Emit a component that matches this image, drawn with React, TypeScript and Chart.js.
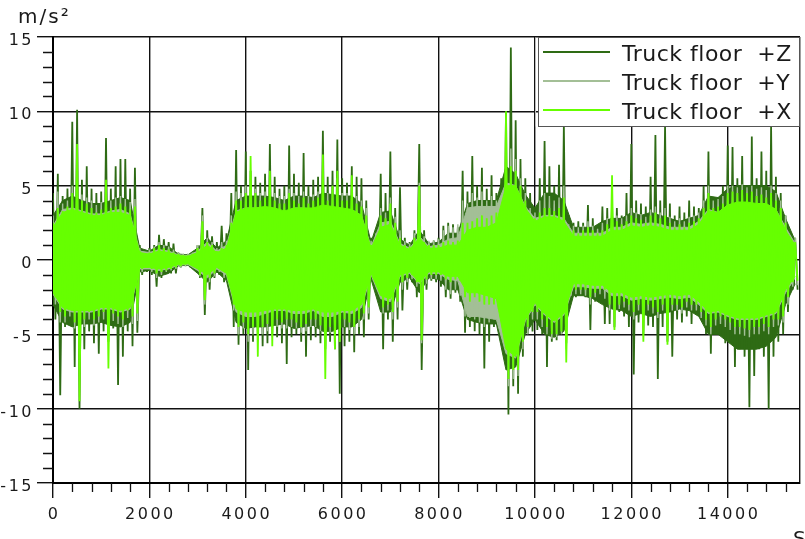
import React, { useEffect, useRef } from "react";
import { Chart, registerables } from "chart.js";

Chart.register(...registerables);

// ---------------- data ----------------
// Peaks: per 100 s bin, highest value (at bin start) and lowest value (half a bin later).
// Core: per 200 s, level of the dense, solid part of the trace.
const PEAK_BIN = 100;
const CORE_BIN = 200;
const X_MAX = 15500;
const xTickValues = [0, 2000, 4000, 6000, 8000, 10000, 12000, 14000];
const yTickValues = [-15, -10, -5, 0, 5, 10, 15];
const seriesLabels = ["Truck floor  +Z", "Truck floor  +Y", "Truck floor  +X"];
const seriesColors = ["#2e6b14", "#a3bf96", "#66ff00"];
const unitLabel = "m/s²";
const timeLabel = "S";

const zPeakUp = [
  4.5, 5.8, 4.3, 4.8, 9.3, 10.1, 5.4, 6.3, 4.8, 4.5,
  4.6, 8.2, 4.8, 6.3, 6.8, 6.8, 4.8, 6.2, 1.0, 0.6,
  0.8, 1.0, 1.7, 1.4, 1.2, 1.1, 0.5, 0.4, 0.4, 0.5,
  1.0, 3.5, 2.0, 1.6, 1.2, 2.3, 1.8, 4.5, 7.4, 5.0,
  7.3, 6.0, 5.6, 5.2, 5.8, 7.8, 5.6, 4.8, 5.0, 7.7,
  5.8, 5.2, 7.2, 5.0, 5.4, 5.6, 8.7, 5.6, 6.0, 8.1,
  5.5, 5.2, 6.3, 5.6, 5.5, 4.0, 1.5, 2.0, 5.8, 4.5,
  7.3, 3.5, 4.9, 1.5, 1.2, 2.0, 7.8, 2.0, 1.2, 1.3,
  1.5, 2.3, 2.5, 2.4, 2.2, 6.0, 4.6, 7.0, 5.0, 6.2,
  4.8, 5.7, 4.5, 5.5, 10.0, 14.3, 9.4, 6.8, 5.5, 4.5,
  3.5, 5.5, 8.0, 6.3, 5.0, 6.4, 9.0, 3.0, 2.5, 2.6,
  2.5, 3.7, 2.8, 2.2, 3.6, 3.5, 3.8, 3.5, 3.0, 4.5,
  7.8, 4.0, 3.8, 3.6, 5.6, 8.4, 4.0, 9.0, 3.8, 3.0,
  3.6, 3.2, 4.0, 3.6, 3.5, 5.0, 7.3, 4.0, 4.2, 5.0,
  7.7, 7.6, 5.5, 7.0, 5.0, 8.3, 5.5, 7.3, 6.0, 9.0,
  5.6, 4.5, 3.0, 1.3, 1.5,
];
const zPeakDown = [
  -4.0, -9.1, -4.5, -4.2, -7.2, -10.0, -6.0, -4.8, -5.6, -6.3,
  -4.8, -5.5, -4.6, -8.4, -6.5, -4.8, -5.8, -4.9, -1.0, -0.8,
  -1.0, -1.8, -1.2, -0.9, -0.9, -0.9, -0.5, -0.4, -0.5, -0.5,
  -1.2, -3.7, -2.0, -1.2, -1.0, -1.5, -1.8, -4.5, -5.7, -5.0,
  -7.4, -5.5, -5.0, -5.8, -5.6, -5.0, -5.2, -5.6, -7.0, -5.2,
  -5.0, -5.5, -6.5, -5.4, -5.2, -5.6, -6.0, -5.5, -6.0, -9.0,
  -5.8, -5.5, -6.2, -5.0, -5.2, -4.0, -1.5, -2.5, -6.0, -4.0,
  -5.5, -4.0, -3.4, -2.0, -1.5, -2.5, -7.4, -2.0, -1.4, -1.5,
  -1.8, -2.5, -2.6, -2.2, -2.8, -4.9, -4.5, -4.8, -5.0, -7.3,
  -5.5, -4.5, -4.5, -5.0, -10.4, -8.5, -9.0, -6.5, -5.0, -4.8,
  -4.7, -5.0, -7.2, -5.5, -5.4, -5.0, -5.6, -2.8, -2.5, -2.2,
  -2.5, -4.7, -2.8, -2.5, -4.3, -4.3, -4.5, -3.5, -3.8, -4.5,
  -7.7, -4.2, -5.0, -4.4, -4.5, -8.0, -4.5, -5.5, -6.5, -4.0,
  -4.2, -3.8, -4.3, -3.5, -4.0, -5.0, -6.3, -4.8, -5.0, -5.6,
  -5.5, -7.2, -6.0, -6.5, -9.9, -7.8, -6.0, -6.5, -10.0, -6.5,
  -5.5, -5.0, -3.5, -2.0, -2.0,
];
const yPeakUp = [
  3.0, 4.6, 3.8, 4.0, 5.0, 6.0, 4.4, 4.2, 4.0, 3.7,
  3.9, 5.0, 4.0, 4.2, 4.3, 4.1, 3.9, 4.1, 0.8, 0.5,
  0.7, 0.9, 1.2, 1.0, 0.9, 0.7, 0.5, 0.4, 0.4, 0.5,
  1.0, 3.0, 1.5, 1.2, 0.8, 1.2, 1.3, 3.0, 4.6, 4.5,
  5.0, 5.0, 4.8, 4.5, 4.6, 5.0, 4.5, 4.3, 4.3, 4.8,
  4.5, 4.3, 4.6, 4.3, 4.4, 4.6, 5.5, 4.5, 5.0, 5.5,
  4.5, 4.5, 5.0, 4.3, 4.0, 3.5, 1.3, 1.8, 3.5, 3.2,
  4.2, 2.9, 2.0, 1.3, 1.1, 1.8, 5.2, 1.6, 1.3, 1.3,
  1.4, 2.0, 2.3, 2.2, 2.4, 4.0, 3.8, 4.5, 4.2, 4.6,
  4.0, 4.3, 4.0, 4.2, 8.0, 7.5, 6.8, 5.5, 4.5, 3.5,
  3.2, 4.0, 4.5, 4.3, 4.0, 4.2, 5.0, 2.4, 2.3, 2.2,
  2.3, 2.6, 2.3, 2.1, 2.5, 2.8, 4.0, 3.0, 2.8, 3.0,
  3.5, 3.2, 3.1, 2.9, 3.4, 3.6, 3.2, 3.5, 2.9, 2.6,
  2.8, 2.6, 2.9, 3.0, 3.2, 4.0, 5.0, 4.0, 4.1, 4.3,
  5.0, 5.0, 4.9, 5.1, 4.9, 5.0, 4.8, 4.9, 4.7, 5.0,
  4.5, 4.0, 3.0, 1.5, 1.5,
];
const yPeakDown = [
  -3.0, -4.2, -4.2, -3.8, -4.6, -6.0, -4.5, -4.0, -4.4, -4.2,
  -4.0, -5.5, -4.1, -4.3, -4.5, -3.9, -4.3, -4.1, -0.8, -0.6,
  -0.8, -1.2, -1.0, -0.8, -0.7, -0.6, -0.5, -0.4, -0.4, -0.5,
  -1.1, -3.0, -1.5, -1.1, -0.8, -1.2, -1.5, -3.4, -5.0, -4.6,
  -5.5, -5.0, -5.5, -5.0, -4.8, -5.2, -4.5, -4.6, -4.6, -4.5,
  -4.6, -4.9, -4.8, -4.5, -4.5, -4.8, -6.0, -4.9, -5.5, -5.5,
  -4.5, -4.7, -5.0, -4.5, -4.0, -3.6, -1.4, -2.0, -3.6, -3.4,
  -4.0, -3.2, -2.0, -1.5, -1.3, -1.8, -5.6, -1.6, -1.3, -1.3,
  -1.4, -2.0, -2.3, -2.0, -2.4, -3.8, -3.9, -4.0, -4.2, -4.5,
  -4.2, -4.0, -4.0, -4.2, -8.5, -8.0, -7.8, -6.0, -5.0, -4.0,
  -4.0, -4.5, -5.0, -5.3, -5.2, -5.0, -6.0, -2.4, -2.3, -2.3,
  -2.4, -3.0, -2.5, -2.3, -2.6, -3.4, -4.6, -3.3, -3.2, -3.4,
  -4.0, -3.4, -4.8, -3.4, -3.6, -3.9, -3.4, -4.8, -3.4, -3.4,
  -3.6, -3.2, -3.4, -3.4, -3.9, -4.4, -5.0, -4.4, -4.3, -4.5,
  -4.7, -5.0, -5.0, -5.1, -5.2, -5.0, -5.0, -4.8, -5.0, -4.5,
  -4.4, -4.2, -3.0, -1.8, -1.7,
];
const xPeakUp = [
  2.5, 3.5, 3.3, 3.6, 4.5, 7.8, 4.0, 3.8, 3.5, 3.2,
  3.4, 5.4, 3.5, 3.6, 3.8, 3.6, 3.4, 3.6, 0.6, 0.4,
  0.5, 0.8, 1.0, 0.8, 0.7, 0.5, 0.4, 0.3, 0.3, 0.4,
  0.8, 2.6, 1.2, 1.0, 0.6, 0.8, 1.0, 2.5, 4.0, 4.0,
  4.5, 7.0, 4.5, 4.0, 4.2, 6.0, 4.0, 3.8, 3.8, 4.5,
  4.0, 3.8, 4.2, 3.8, 4.0, 4.2, 7.1, 4.0, 5.0, 6.0,
  4.0, 4.0, 5.7, 3.8, 3.6, 3.0, 1.0, 1.5, 3.0, 2.8,
  3.8, 2.5, 1.5, 1.0, 0.9, 1.5, 5.0, 1.2, 1.0, 1.0,
  1.0, 1.2, 1.3, 1.2, 1.3, 2.5, 2.5, 2.6, 2.8, 3.0,
  2.8, 3.0, 3.2, 3.5, 10.0, 6.3, 6.0, 5.0, 4.0, 3.0,
  2.8, 3.2, 3.5, 3.5, 3.3, 3.5, 4.2, 2.0, 2.0, 1.8,
  2.0, 2.2, 2.0, 1.8, 2.0, 2.4, 5.7, 2.6, 2.4, 2.6,
  3.0, 2.8, 2.7, 2.5, 3.0, 3.2, 2.8, 3.0, 2.5, 2.2,
  2.4, 2.2, 2.5, 2.6, 2.8, 3.5, 4.5, 3.5, 3.6, 3.8,
  4.5, 4.6, 4.5, 4.7, 4.5, 4.6, 4.3, 4.4, 4.2, 4.5,
  4.0, 3.5, 2.5, 1.2, 1.2,
];
const xPeakDown = [
  -2.5, -3.5, -3.8, -3.3, -4.2, -9.5, -4.0, -3.5, -4.0, -3.8,
  -3.5, -7.3, -3.6, -3.8, -4.0, -3.4, -3.8, -3.6, -0.6, -0.5,
  -0.6, -0.9, -0.8, -0.7, -0.6, -0.5, -0.4, -0.3, -0.3, -0.4,
  -1.0, -2.7, -1.2, -0.9, -0.6, -0.8, -1.2, -3.0, -4.5, -4.2,
  -5.0, -4.5, -6.5, -4.5, -4.3, -5.8, -4.0, -4.2, -4.0, -4.0,
  -4.2, -4.5, -4.3, -4.0, -4.0, -4.4, -8.0, -4.5, -6.0, -5.5,
  -4.0, -4.2, -4.5, -4.0, -3.6, -3.2, -1.2, -1.7, -3.2, -3.0,
  -3.5, -2.8, -1.5, -1.2, -1.0, -1.5, -5.4, -1.3, -1.0, -1.0,
  -1.0, -1.3, -1.5, -1.3, -1.4, -2.5, -2.8, -2.5, -2.8, -3.0,
  -3.0, -3.0, -3.3, -3.5, -8.0, -7.4, -7.4, -5.5, -4.5, -3.5,
  -3.5, -4.0, -4.5, -5.0, -5.0, -4.8, -6.9, -2.0, -2.0, -2.0,
  -2.0, -2.5, -2.2, -2.0, -2.0, -3.0, -4.7, -3.0, -2.8, -3.0,
  -3.5, -3.0, -5.5, -3.0, -3.2, -3.5, -3.0, -5.7, -3.0, -3.0,
  -3.2, -2.8, -3.0, -3.0, -3.5, -4.0, -4.5, -4.0, -3.8, -4.0,
  -4.2, -4.5, -4.5, -4.6, -4.7, -4.5, -4.5, -4.3, -4.5, -4.0,
  -4.0, -3.8, -2.5, -1.5, -1.4,
];

const zCoreUp = [
  3.0, 4.0, 4.3, 4.0, 3.8, 3.8, 4.0, 4.2, 4.0, 0.8,
  0.6, 1.0, 0.9, 0.4, 0.35, 0.8, 1.5, 0.8, 1.3, 4.0,
  4.3, 4.3, 4.3, 4.2, 4.0, 4.3, 4.3, 4.2, 4.5, 4.4,
  4.3, 4.3, 3.8, 1.2, 3.2, 3.3, 1.4, 1.0, 2.0, 1.1,
  1.2, 1.8, 1.8, 3.8, 4.0, 4.0, 4.0, 6.3, 5.8, 4.4,
  3.5, 4.5, 4.5, 4.0, 2.2, 2.2, 2.2, 2.6, 2.8, 2.8,
  3.2, 3.0, 3.2, 3.0, 2.8, 2.6, 2.8, 3.0, 4.3, 4.2,
  4.8, 5.0, 5.0, 5.0, 5.0, 4.6, 2.8, 1.3,
];
const zCoreDown = [
  -3.0, -4.2, -4.5, -4.3, -4.3, -4.2, -4.4, -4.5, -4.2, -0.8,
  -0.7, -1.1, -0.9, -0.4, -0.35, -0.9, -1.5, -0.8, -1.4, -4.2,
  -4.6, -4.5, -4.5, -4.4, -4.3, -4.6, -4.5, -4.4, -4.8, -4.8,
  -4.5, -4.5, -4.0, -1.3, -3.5, -3.5, -1.5, -1.2, -2.2, -1.2,
  -1.3, -2.0, -2.0, -4.0, -4.2, -4.3, -4.3, -7.4, -7.2, -5.0,
  -4.0, -5.0, -5.2, -4.8, -2.4, -2.4, -2.6, -3.0, -3.3, -3.4,
  -3.8, -3.6, -3.8, -3.6, -3.5, -3.3, -3.4, -3.8, -5.0, -5.0,
  -5.5, -6.0, -6.0, -6.0, -5.8, -5.2, -3.0, -1.6,
];
const yCoreUp = [
  2.3, 3.4, 3.5, 3.3, 3.1, 3.1, 3.3, 3.4, 3.1, 0.6,
  0.5, 0.7, 0.6, 0.35, 0.3, 0.6, 1.2, 0.6, 1.0, 3.3,
  3.5, 3.5, 3.5, 3.4, 3.2, 3.5, 3.5, 3.4, 3.6, 3.5,
  3.4, 3.4, 3.0, 0.9, 2.5, 2.6, 1.1, 0.8, 1.6, 0.9,
  1.0, 1.4, 1.5, 3.5, 3.6, 3.6, 3.6, 5.2, 5.0, 3.6,
  2.8, 3.0, 3.0, 2.8, 1.8, 1.8, 1.8, 1.8, 2.2, 2.2,
  2.5, 2.4, 2.5, 2.4, 2.2, 2.2, 2.2, 2.6, 3.4, 3.2,
  3.7, 3.8, 3.8, 3.7, 3.7, 3.4, 2.2, 1.1,
];
const yCoreDown = [
  -2.3, -3.3, -3.5, -3.5, -3.5, -3.3, -3.3, -3.5, -3.3, -0.6,
  -0.6, -0.7, -0.6, -0.35, -0.3, -0.7, -1.2, -0.6, -1.0, -3.5,
  -3.8, -3.8, -3.6, -3.4, -3.4, -3.6, -3.6, -3.4, -3.8, -3.8,
  -3.5, -3.6, -3.2, -1.0, -2.6, -2.8, -1.1, -0.9, -1.6, -0.9,
  -0.9, -1.3, -1.4, -3.8, -3.8, -3.9, -4.0, -6.3, -6.6, -4.1,
  -3.0, -3.7, -4.2, -3.7, -1.8, -1.8, -1.9, -1.9, -2.4, -2.4,
  -2.7, -2.6, -2.7, -2.6, -2.5, -2.6, -2.5, -3.0, -3.6, -3.5,
  -3.8, -4.0, -4.0, -4.0, -3.8, -3.6, -2.2, -1.2,
];
const xCoreUp = [
  2.2, 3.2, 3.4, 3.2, 3.0, 3.0, 3.2, 3.2, 3.0, 0.5,
  0.4, 0.6, 0.5, 0.3, 0.25, 0.5, 1.0, 0.5, 0.8, 3.2,
  3.5, 3.5, 3.6, 3.5, 3.3, 3.5, 3.5, 3.5, 3.7, 3.6,
  3.5, 3.4, 3.0, 0.8, 2.2, 2.4, 1.0, 0.7, 1.5, 0.8,
  0.8, 1.0, 1.0, 2.0, 2.2, 2.2, 2.5, 5.0, 5.0, 3.5,
  2.6, 2.9, 2.9, 2.6, 1.6, 1.6, 1.6, 1.6, 2.0, 2.0,
  2.3, 2.2, 2.3, 2.2, 2.0, 2.0, 2.0, 2.4, 3.3, 3.2,
  3.7, 3.9, 3.9, 3.8, 3.8, 3.4, 2.0, 1.0,
];
const xCoreDown = [
  -2.2, -3.2, -3.4, -3.4, -3.4, -3.2, -3.2, -3.4, -3.2, -0.5,
  -0.5, -0.6, -0.5, -0.3, -0.25, -0.6, -1.0, -0.5, -0.9, -3.3,
  -3.5, -3.5, -3.4, -3.3, -3.3, -3.4, -3.4, -3.3, -3.5, -3.5,
  -3.4, -3.4, -3.0, -0.9, -2.4, -2.6, -1.0, -0.8, -1.5, -0.8,
  -0.8, -1.1, -1.1, -2.2, -2.2, -2.4, -2.6, -6.0, -6.5, -4.0,
  -2.9, -3.6, -4.1, -3.6, -1.6, -1.6, -1.7, -1.7, -2.2, -2.2,
  -2.5, -2.4, -2.5, -2.4, -2.3, -2.4, -2.3, -2.8, -3.5, -3.4,
  -3.7, -3.9, -3.9, -3.9, -3.7, -3.5, -2.0, -1.1,
];

// ---------------- helpers ----------------
function peakTrace(up: number[], down: number[]) {
  const pts: { x: number; y: number }[] = [];
  for (let i = 0; i < up.length; i++) {
    pts.push({ x: i * PEAK_BIN, y: up[i] });
    pts.push({ x: i * PEAK_BIN + PEAK_BIN / 2, y: down[i] });
  }
  return pts;
}
function coreTrace(values: number[]) {
  return values.map((v, i) => ({ x: i * CORE_BIN, y: v }));
}

const FONT = "'DejaVu Sans', Verdana, sans-serif";
const TEXT_COLOR = "#1a1a1a";

const decorPlugin = {
  id: "decor",
  afterDraw(chart: any) {
    const { ctx, chartArea, scales } = chart;
    const xs = scales.x;
    const ys = scales.y;
    ctx.save();

    // minor ticks
    ctx.strokeStyle = "#111";
    ctx.lineWidth = 1.3;
    ctx.beginPath();
    for (let v = 400; v < X_MAX; v += 400) {
      if (v % 2000 === 0) continue;
      const px = Math.round(xs.getPixelForValue(v)) + 0.5;
      ctx.moveTo(px, chartArea.bottom);
      ctx.lineTo(px, chartArea.bottom + 9);
    }
    for (let v = -14; v < 15; v++) {
      if (v % 5 === 0) continue;
      const py = Math.round(ys.getPixelForValue(v)) + 0.5;
      ctx.moveTo(chartArea.left - 10, py);
      ctx.lineTo(chartArea.left, py);
    }
    ctx.stroke();

    // tick labels
    ctx.fillStyle = TEXT_COLOR;
    ctx.font = `16px ${FONT}`;
    (ctx as any).letterSpacing = "2.5px";
    ctx.textBaseline = "alphabetic";
    ctx.textAlign = "center";
    for (const v of xTickValues) {
      ctx.fillText(String(v), xs.getPixelForValue(v) + 1, 519);
    }
    ctx.textAlign = "right";
    for (const v of yTickValues) {
      ctx.fillText(String(v), 34, ys.getPixelForValue(v) + 8);
    }

    // unit labels
    ctx.textAlign = "left";
    ctx.font = `20px ${FONT}`;
    (ctx as any).letterSpacing = "2px";
    ctx.fillText(unitLabel, 18, 23);
    ctx.fillText(timeLabel, 793, 545);

    // legend box
    const bx = 538.5;
    const by = chartArea.top + 0.5;
    const bw = 261;
    const bh = 89;
    ctx.fillStyle = "#ffffff";
    ctx.fillRect(bx, by, bw, bh);
    ctx.strokeStyle = "#555";
    ctx.lineWidth = 1;
    ctx.strokeRect(bx, by, bw, bh);
    ctx.strokeStyle = "#bbb";
    ctx.beginPath();
    ctx.moveTo(bx - 3, by);
    ctx.lineTo(bx - 3, by + bh);
    ctx.stroke();

    ctx.font = `22px ${FONT}`;
    (ctx as any).letterSpacing = "0.5px";
    const rowY = [52, 81, 110];
    seriesLabels.forEach((label, i) => {
      const y = rowY[i];
      ctx.strokeStyle = seriesColors[i];
      ctx.lineWidth = 2;
      ctx.beginPath();
      ctx.moveTo(543, y);
      ctx.lineTo(610, y);
      ctx.stroke();
      ctx.fillStyle = TEXT_COLOR;
      ctx.fillText(label, 622, y + 9);
    });

    ctx.restore();
  },
};

function seriesDatasets(
  label: string,
  color: string,
  coreUp: number[],
  coreDown: number[],
  peakUp: number[],
  peakDown: number[],
  peakWidth: number
) {
  return [
    {
      label: label + " core",
      data: coreTrace(coreUp),
      borderColor: color,
      backgroundColor: color,
      borderWidth: 1,
      fill: "+1",
    },
    {
      label: label + " core low",
      data: coreTrace(coreDown),
      borderColor: color,
      backgroundColor: color,
      borderWidth: 1,
      fill: false,
    },
    {
      label,
      data: peakTrace(peakUp, peakDown),
      borderColor: color,
      borderWidth: peakWidth,
      fill: false,
    },
  ];
}

export default function App() {
  const canvasRef = useRef<HTMLCanvasElement | null>(null);

  useEffect(() => {
    const canvas = canvasRef.current;
    if (!canvas) return;
    const gridColor = "#111";
    const datasets = [
      ...seriesDatasets(seriesLabels[0], seriesColors[0], zCoreUp, zCoreDown, zPeakUp, zPeakDown, 1.8),
      ...seriesDatasets(seriesLabels[1], seriesColors[1], yCoreUp, yCoreDown, yPeakUp, yPeakDown, 1.4),
      ...seriesDatasets(seriesLabels[2], seriesColors[2], xCoreUp, xCoreDown, xPeakUp, xPeakDown, 1.8),
    ].map((d, i) => ({ ...d, order: 100 - i }));

    const chart = new Chart(canvas, {
      type: "line",
      data: { datasets },
      options: {
        animation: false,
        responsive: false,
        parsing: false,
        normalized: true,
        elements: {
          point: { radius: 0 },
          line: { tension: 0, borderJoinStyle: "bevel" },
        },
        plugins: {
          legend: { display: false },
          tooltip: { enabled: false },
          filler: { propagate: false },
        },
        layout: { padding: { top: 37, right: 5, left: 0, bottom: 0 } },
        scales: {
          x: {
            type: "linear",
            min: 0,
            max: X_MAX,
            ticks: { display: false },
            afterBuildTicks: (s: any) => {
              s.ticks = [...xTickValues, X_MAX].map((value) => ({ value }));
            },
            grid: {
              color: gridColor,
              lineWidth: 1.4,
              tickLength: 15,
              tickColor: (c: any) =>
                c.tick && c.tick.value === X_MAX ? "rgba(0,0,0,0)" : gridColor,
            },
            border: { display: true, color: "#000", width: 2 },
            afterFit: (s: any) => {
              s.height = 56;
            },
          },
          y: {
            type: "linear",
            min: -15,
            max: 15,
            ticks: { display: false },
            afterBuildTicks: (s: any) => {
              s.ticks = yTickValues.map((value) => ({ value }));
            },
            grid: { color: gridColor, lineWidth: 1.4, tickLength: 16 },
            border: { display: true, color: "#000", width: 2 },
            afterFit: (s: any) => {
              s.width = 53;
            },
          },
        },
      } as any,
      plugins: [decorPlugin],
    });
    return () => chart.destroy();
  }, []);

  return (
    <div style={{ position: "absolute", left: 0, top: 0, width: 805, height: 539, background: "#fff" }}>
      <canvas ref={canvasRef} width={805} height={539} style={{ display: "block" }} />
    </div>
  );
}
